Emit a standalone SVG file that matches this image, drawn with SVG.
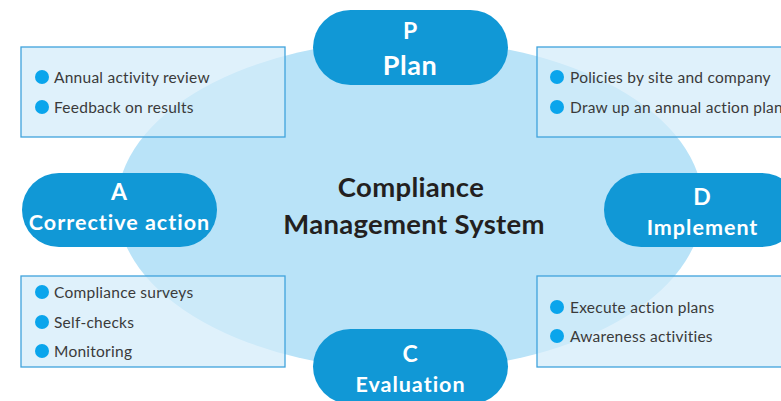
<svg xmlns="http://www.w3.org/2000/svg" width="781" height="401" viewBox="0 0 781 401">
<style>
.box{fill:#d3ecf9;fill-opacity:0.73;stroke:#3fa3dc;stroke-width:1.3}
.dot{fill:#0aa5ec}
.item{font-family:Lato,"Noto Sans",sans-serif;font-size:15.5px;letter-spacing:0.25px;fill:#3a3a3a}
.pill{fill:#1198d6}
.pt{font-family:Lato,"Noto Sans",sans-serif;font-weight:bold;fill:#ffffff;text-anchor:middle}
.sub{font-size:21.5px;letter-spacing:1px}
.center{font-family:Lato,"Noto Sans",sans-serif;font-weight:bold;font-size:27.5px;letter-spacing:0.3px;fill:#231f20;text-anchor:middle}
</style>
<rect width="781" height="401" fill="#ffffff"/>
<g id="system">
<ellipse cx="410" cy="205" rx="293" ry="165" fill="#b9e3f8"/>
<text class="center" x="411" y="197">Compliance</text>
<text class="center" x="414" y="234">Management System</text>
</g>
<g id="box-act">
<rect class="box" x="21" y="47" width="264" height="90"/>
<circle class="dot" cx="42" cy="77" r="7"/>
<text class="item" x="54" y="82.5">Annual activity review</text>
<circle class="dot" cx="42" cy="107" r="7"/>
<text class="item" x="54" y="112.5">Feedback on results</text>
</g>
<g id="box-plan">
<rect class="box" x="537" y="47" width="260" height="90"/>
<circle class="dot" cx="557" cy="77" r="7"/>
<text class="item" x="570" y="82.5">Policies by site and company</text>
<circle class="dot" cx="557" cy="107" r="7"/>
<text class="item" x="570" y="112.5">Draw up an annual action plan</text>
</g>
<g id="box-check">
<rect class="box" x="21" y="276" width="264" height="91"/>
<circle class="dot" cx="42" cy="292" r="7"/>
<text class="item" x="54" y="297.5">Compliance surveys</text>
<circle class="dot" cx="42" cy="322" r="7"/>
<text class="item" x="54" y="327.5">Self-checks</text>
<circle class="dot" cx="42" cy="351" r="7"/>
<text class="item" x="54" y="356.5">Monitoring</text>
</g>
<g id="box-do">
<rect class="box" x="537" y="276" width="260" height="91"/>
<circle class="dot" cx="557" cy="307" r="7"/>
<text class="item" x="570" y="312.5">Execute action plans</text>
<circle class="dot" cx="557" cy="336" r="7"/>
<text class="item" x="570" y="341.5">Awareness activities</text>
</g>
<g id="plan">
<rect class="pill" x="313" y="10" width="195" height="75" rx="37.5"/>
<text class="pt" x="410" y="39" font-size="23">P</text>
<text class="pt" x="410" y="75" font-size="27" letter-spacing="0.5">Plan</text>
</g>
<g id="act">
<rect class="pill" x="22" y="173" width="195" height="74" rx="37"/>
<text class="pt" x="119" y="200" font-size="23">A</text>
<text class="pt sub" x="119.5" y="230">Corrective action</text>
</g>
<g id="do">
<rect class="pill" x="604" y="173" width="195" height="74" rx="37"/>
<text class="pt" x="702" y="205" font-size="23">D</text>
<text class="pt sub" x="702.5" y="235">Implement</text>
</g>
<g id="check">
<rect class="pill" x="313" y="329" width="195" height="75" rx="37.5"/>
<text class="pt" x="410" y="362" font-size="23">C</text>
<text class="pt sub" x="410.5" y="392">Evaluation</text>
</g>
<g id="connectors"></g>
</svg>
